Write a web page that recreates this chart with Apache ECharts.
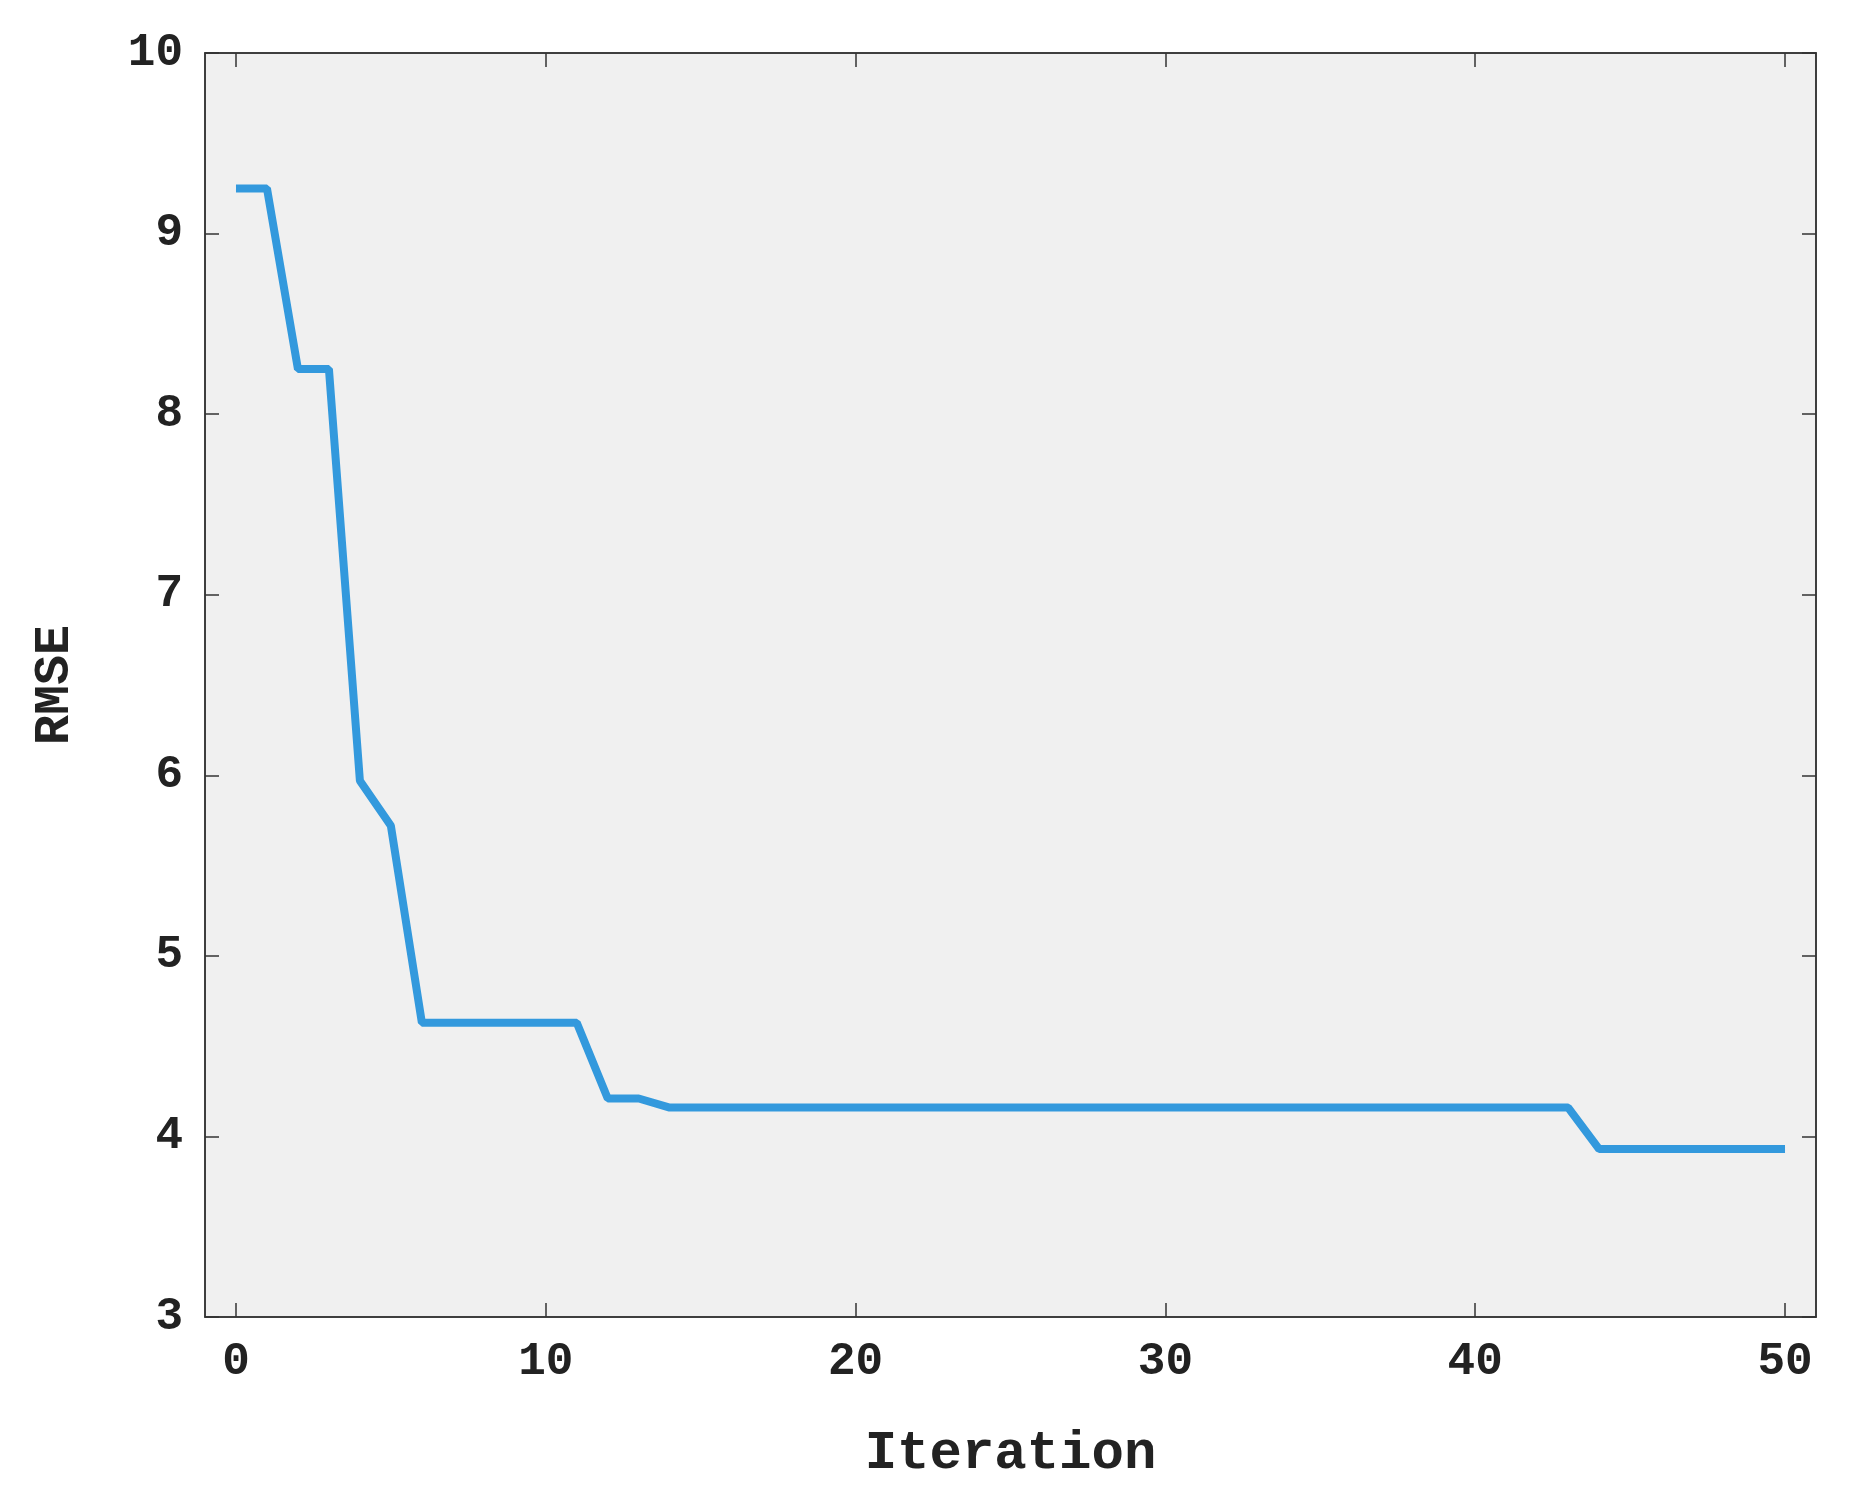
<!DOCTYPE html>
<html><head><meta charset="utf-8">
<script src="https://cdn.jsdelivr.net/npm/echarts@6/dist/echarts.min.js"></script>
<style>html,body{margin:0;background:#fff}#c{width:1855px;height:1510px}</style>
</head><body><div id="c"></div>
<script>
const iterations = [0,1,2,3,4,5,6,7,8,9,10,11,12,13,14,15,16,17,18,19,20,21,22,23,24,25,26,27,28,29,30,31,32,33,34,35,36,37,38,39,40,41,42,43,44,45,46,47,48,49,50];
const rmse = [9.25,9.25,8.25,8.25,5.97,5.72,4.63,4.63,4.63,4.63,4.63,4.63,4.21,4.21,4.16,4.16,4.16,4.16,4.16,4.16,4.16,4.16,4.16,4.16,4.16,4.16,4.16,4.16,4.16,4.16,4.16,4.16,4.16,4.16,4.16,4.16,4.16,4.16,4.16,4.16,4.16,4.16,4.16,4.16,3.93,3.93,3.93,3.93,3.93,3.93,3.93];
const xTicks = [0,10,20,30,40,50];
const font = '"Liberation Mono", "DejaVu Sans Mono", monospace';
const chart = echarts.init(document.getElementById('c'));
const lbl = {fontFamily: font, fontWeight: 'bold', fontSize: 46, color: '#222'};
const axLine = {show: true, onZero: false, lineStyle: {color: '#333', width: 1.5}};
const tick = {show: true, inside: true, length: 14, lineStyle: {color: '#333', width: 1.5}};
const xTick = Object.assign({customValues: xTicks}, tick);
chart.setOption({
  backgroundColor: '#fff',
  grid: {left: 205, right: 39, top: 53, bottom: 193, show: true, backgroundColor: '#f0f0f0', borderColor: '#333', borderWidth: 1.5},
  xAxis: [
    {type: 'value', min: -1, max: 51, axisLine: axLine, axisTick: xTick, splitLine: {show: false},
     axisLabel: Object.assign({margin: 22, customValues: xTicks}, lbl),
     name: 'Iteration', nameLocation: 'middle', nameGap: 110,
     nameTextStyle: {fontFamily: font, fontWeight: 'bold', fontSize: 54, color: '#222'}},
    {type: 'value', position: 'top', min: -1, max: 51, axisLine: axLine, axisTick: xTick, axisLabel: {show: false}, splitLine: {show: false}}
  ],
  yAxis: [
    {type: 'value', min: 3, max: 10, interval: 1, axisLine: axLine, axisTick: tick, splitLine: {show: false},
     axisLabel: Object.assign({margin: 22}, lbl),
     name: 'RMSE', nameLocation: 'middle', nameGap: 125,
     nameTextStyle: {fontFamily: font, fontWeight: 'bold', fontSize: 50, color: '#222'}},
    {type: 'value', position: 'right', min: 3, max: 10, interval: 1, axisLine: axLine, axisTick: tick, axisLabel: {show: false}, splitLine: {show: false}}
  ],
  series: [{type: 'line', data: iterations.map((x, i) => [x, rmse[i]]), showSymbol: false,
    lineStyle: {color: '#3399dd', width: 8}, animation: false}]
});
</script></body></html>
